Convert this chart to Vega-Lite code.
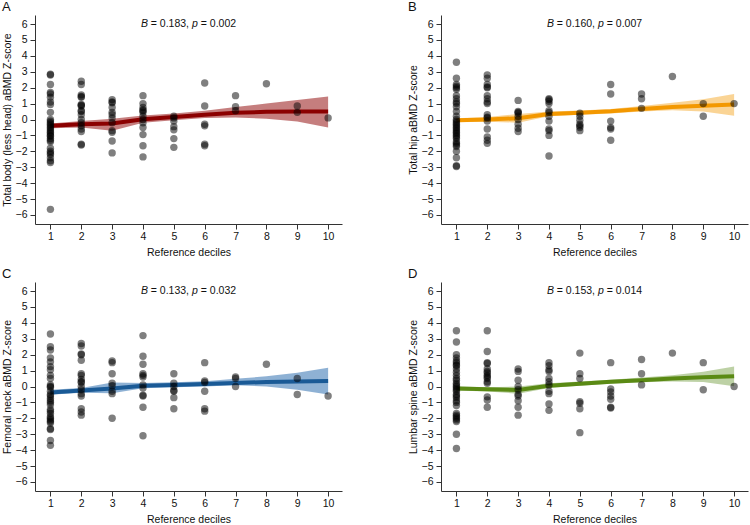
{
"$schema": "https://vega.github.io/schema/vega-lite/v6.json",
"padding": {"left": 2, "top": 1, "right": 5, "bottom": 2},
"columns": 2,
"spacing": {"row": 10, "column": 66},
"config": {
 "view": {"stroke": null},
 "font": "Liberation Sans",
 "axis": {"grid": false, "domainColor": "#333", "tickColor": "#333", "tickSize": 5, "labelFontSize": 10.5, "titleFontSize": 10.5, "labelColor": "#111", "titleColor": "#111", "titleFontWeight": "normal", "labelFont": "Liberation Sans", "titleFont": "Liberation Sans", "labelOverlap": false},
 "axisX": {"labelPadding": 2, "titlePadding": 6},
 "axisY": {"labelPadding": 3, "titlePadding": 3},
 "title": {"anchor": "start", "frame": "bounds", "fontSize": 13, "fontWeight": "normal", "offset": 1, "font": "Liberation Sans", "color": "#111"},
 "text": {"fontSize": 10.5, "baseline": "middle", "align": "left", "color": "#111", "font": "Liberation Sans"}
},
"datasets": {
 "ptsA": [
  {"d":1,"z":2.85},{"d":1,"z":2.8},{"d":1,"z":2.2},{"d":1,"z":1.7},{"d":1,"z":1.6},{"d":1,"z":1.4},{"d":1,"z":1.1},{"d":1,"z":0.95},{"d":1,"z":0.45},{"d":1,"z":0.0},{"d":1,"z":-0.1},{"d":1,"z":-0.2},{"d":1,"z":-0.3},{"d":1,"z":-0.4},{"d":1,"z":-0.5},{"d":1,"z":-0.6},{"d":1,"z":-0.7},{"d":1,"z":-0.8},{"d":1,"z":-0.9},{"d":1,"z":-1.0},{"d":1,"z":-1.05},{"d":1,"z":-1.2},{"d":1,"z":-1.3},{"d":1,"z":-1.4},{"d":1,"z":-1.8},{"d":1,"z":-2.0},{"d":1,"z":-2.1},{"d":1,"z":-2.2},{"d":1,"z":-2.4},{"d":1,"z":-2.6},{"d":1,"z":-2.7},{"d":1,"z":-5.65},
  {"d":2,"z":2.4},{"d":2,"z":2.2},{"d":2,"z":1.55},{"d":2,"z":1.45},{"d":2,"z":1.4},{"d":2,"z":0.95},{"d":2,"z":0.9},{"d":2,"z":0.85},{"d":2,"z":0.55},{"d":2,"z":0.5},{"d":2,"z":0.3},{"d":2,"z":0.0},{"d":2,"z":-0.2},{"d":2,"z":-0.4},{"d":2,"z":-0.6},{"d":2,"z":-0.75},{"d":2,"z":-1.55},{"d":2,"z":-1.6},
  {"d":3,"z":1.25},{"d":3,"z":1.1},{"d":3,"z":1.05},{"d":3,"z":0.75},{"d":3,"z":0.45},{"d":3,"z":0.3},{"d":3,"z":0.1},{"d":3,"z":-0.2},{"d":3,"z":-0.7},{"d":3,"z":-0.8},{"d":3,"z":-1.35},{"d":3,"z":-2.1},
  {"d":4,"z":1.5},{"d":4,"z":1.0},{"d":4,"z":0.75},{"d":4,"z":0.6},{"d":4,"z":0.55},{"d":4,"z":0.45},{"d":4,"z":0.2},{"d":4,"z":0.0},{"d":4,"z":-0.2},{"d":4,"z":-0.5},{"d":4,"z":-0.95},{"d":4,"z":-1.65},{"d":4,"z":-2.35},
  {"d":5,"z":0.2},{"d":5,"z":0.1},{"d":5,"z":-0.1},{"d":5,"z":-0.45},{"d":5,"z":-0.65},{"d":5,"z":-1.2},{"d":5,"z":-1.75},
  {"d":6,"z":2.3},{"d":6,"z":0.85},{"d":6,"z":-0.3},{"d":6,"z":-0.4},{"d":6,"z":-1.55},{"d":6,"z":-1.65},
  {"d":7,"z":1.5},{"d":7,"z":0.8},{"d":7,"z":0.55},
  {"d":8,"z":2.25},
  {"d":9,"z":0.85},{"d":9,"z":0.45},
  {"d":10,"z":0.1}
 ],
 "fitA": [
  {"d":1,"fit":-0.4,"lo":-0.55,"hi":-0.25},{"d":2,"fit":-0.3,"lo":-0.5,"hi":-0.1},{"d":3,"fit":-0.25,"lo":-0.7,"hi":0.05},{"d":4,"fit":0.02,"lo":-0.2,"hi":0.25},{"d":5,"fit":0.15,"lo":-0.05,"hi":0.37},{"d":6,"fit":0.3,"lo":0.1,"hi":0.55},{"d":7,"fit":0.42,"lo":0.12,"hi":0.78},{"d":8,"fit":0.48,"lo":0.05,"hi":1.0},{"d":9,"fit":0.5,"lo":-0.12,"hi":1.22},{"d":10,"fit":0.5,"lo":-0.5,"hi":1.45}
 ],
 "ptsB": [
  {"d":1,"z":3.6},{"d":1,"z":2.6},{"d":1,"z":2.2},{"d":1,"z":2.1},{"d":1,"z":2.0},{"d":1,"z":1.9},{"d":1,"z":1.5},{"d":1,"z":1.3},{"d":1,"z":1.1},{"d":1,"z":1.0},{"d":1,"z":0.8},{"d":1,"z":0.5},{"d":1,"z":0.2},{"d":1,"z":0.0},{"d":1,"z":-0.1},{"d":1,"z":-0.2},{"d":1,"z":-0.3},{"d":1,"z":-0.4},{"d":1,"z":-0.5},{"d":1,"z":-0.6},{"d":1,"z":-0.7},{"d":1,"z":-0.8},{"d":1,"z":-0.9},{"d":1,"z":-1.0},{"d":1,"z":-1.1},{"d":1,"z":-1.2},{"d":1,"z":-1.4},{"d":1,"z":-1.5},{"d":1,"z":-1.6},{"d":1,"z":-1.7},{"d":1,"z":-2.0},{"d":1,"z":-2.4},{"d":1,"z":-2.9},{"d":1,"z":-2.95},
  {"d":2,"z":2.8},{"d":2,"z":2.6},{"d":2,"z":2.2},{"d":2,"z":2.05},{"d":2,"z":2.0},{"d":2,"z":1.5},{"d":2,"z":1.3},{"d":2,"z":1.1},{"d":2,"z":1.0},{"d":2,"z":0.3},{"d":2,"z":0.15},{"d":2,"z":0.1},{"d":2,"z":-0.1},{"d":2,"z":-0.6},{"d":2,"z":-1.1},{"d":2,"z":-1.3},{"d":2,"z":-1.5},
  {"d":3,"z":1.2},{"d":3,"z":0.5},{"d":3,"z":0.45},{"d":3,"z":0.4},{"d":3,"z":0.2},{"d":3,"z":0.0},{"d":3,"z":-0.3},{"d":3,"z":-0.55},{"d":3,"z":-0.75},
  {"d":4,"z":1.3},{"d":4,"z":1.25},{"d":4,"z":1.15},{"d":4,"z":1.0},{"d":4,"z":0.55},{"d":4,"z":0.45},{"d":4,"z":0.2},{"d":4,"z":-0.1},{"d":4,"z":-0.6},{"d":4,"z":-0.7},{"d":4,"z":-1.0},{"d":4,"z":-2.3},
  {"d":5,"z":0.4},{"d":5,"z":0.2},{"d":5,"z":-0.05},{"d":5,"z":-0.3},{"d":5,"z":-0.4},{"d":5,"z":-0.5},{"d":5,"z":-0.7},
  {"d":6,"z":2.2},{"d":6,"z":1.6},{"d":6,"z":-0.1},{"d":6,"z":-0.5},{"d":6,"z":-0.6},{"d":6,"z":-1.3},
  {"d":7,"z":1.6},{"d":7,"z":1.3},{"d":7,"z":0.7},
  {"d":8,"z":2.7},
  {"d":9,"z":1.0},{"d":9,"z":0.2},
  {"d":10,"z":1.0}
 ],
 "fitB": [
  {"d":1,"fit":-0.05,"lo":-0.18,"hi":0.08},{"d":2,"fit":0.0,"lo":-0.14,"hi":0.15},{"d":3,"fit":0.08,"lo":-0.2,"hi":0.35},{"d":4,"fit":0.35,"lo":0.2,"hi":0.5},{"d":5,"fit":0.43,"lo":0.3,"hi":0.56},{"d":6,"fit":0.52,"lo":0.38,"hi":0.66},{"d":7,"fit":0.66,"lo":0.5,"hi":0.85},{"d":8,"fit":0.78,"lo":0.58,"hi":1.05},{"d":9,"fit":0.87,"lo":0.5,"hi":1.27},{"d":10,"fit":0.95,"lo":0.23,"hi":1.6}
 ],
 "ptsC": [
  {"d":1,"z":3.3},{"d":1,"z":2.5},{"d":1,"z":2.3},{"d":1,"z":1.8},{"d":1,"z":1.55},{"d":1,"z":1.25},{"d":1,"z":1.05},{"d":1,"z":0.7},{"d":1,"z":0.5},{"d":1,"z":0.1},{"d":1,"z":0.0},{"d":1,"z":-0.05},{"d":1,"z":-0.3},{"d":1,"z":-0.5},{"d":1,"z":-0.6},{"d":1,"z":-0.75},{"d":1,"z":-0.9},{"d":1,"z":-1.0},{"d":1,"z":-1.15},{"d":1,"z":-1.45},{"d":1,"z":-1.55},{"d":1,"z":-1.7},{"d":1,"z":-1.9},{"d":1,"z":-2.0},{"d":1,"z":-2.1},{"d":1,"z":-2.2},{"d":1,"z":-2.3},{"d":1,"z":-2.65},{"d":1,"z":-2.7},{"d":1,"z":-3.4},{"d":1,"z":-3.7},
  {"d":2,"z":2.7},{"d":2,"z":2.55},{"d":2,"z":2.05},{"d":2,"z":2.0},{"d":2,"z":1.65},{"d":2,"z":0.8},{"d":2,"z":0.7},{"d":2,"z":0.45},{"d":2,"z":0.3},{"d":2,"z":0.25},{"d":2,"z":0.0},{"d":2,"z":-0.2},{"d":2,"z":-0.45},{"d":2,"z":-0.6},{"d":2,"z":-1.4},{"d":2,"z":-1.6},{"d":2,"z":-1.8},
  {"d":3,"z":1.6},{"d":3,"z":1.5},{"d":3,"z":0.8},{"d":3,"z":0.2},{"d":3,"z":0.05},{"d":3,"z":-0.3},{"d":3,"z":-0.45},{"d":3,"z":-2.0},
  {"d":4,"z":3.2},{"d":4,"z":1.9},{"d":4,"z":1.4},{"d":4,"z":0.8},{"d":4,"z":0.7},{"d":4,"z":0.6},{"d":4,"z":0.1},{"d":4,"z":-0.1},{"d":4,"z":-0.55},{"d":4,"z":-0.6},{"d":4,"z":-1.3},{"d":4,"z":-3.1},
  {"d":5,"z":0.8},{"d":5,"z":0.2},{"d":5,"z":0.0},{"d":5,"z":-0.25},{"d":5,"z":-0.3},{"d":5,"z":-0.7},{"d":5,"z":-1.4},
  {"d":6,"z":1.5},{"d":6,"z":0.35},{"d":6,"z":0.25},{"d":6,"z":-0.3},{"d":6,"z":-1.4},{"d":6,"z":-1.55},
  {"d":7,"z":0.6},{"d":7,"z":0.5},{"d":7,"z":0.0},
  {"d":8,"z":1.4},
  {"d":9,"z":0.5},{"d":9,"z":-0.5},
  {"d":10,"z":-0.6}
 ],
 "fitC": [
  {"d":1,"fit":-0.37,"lo":-0.52,"hi":-0.2},{"d":2,"fit":-0.25,"lo":-0.4,"hi":-0.1},{"d":3,"fit":-0.12,"lo":-0.43,"hi":0.25},{"d":4,"fit":0.05,"lo":-0.11,"hi":0.22},{"d":5,"fit":0.1,"lo":-0.05,"hi":0.26},{"d":6,"fit":0.15,"lo":0.0,"hi":0.33},{"d":7,"fit":0.22,"lo":0.08,"hi":0.48},{"d":8,"fit":0.28,"lo":0.0,"hi":0.64},{"d":9,"fit":0.32,"lo":-0.2,"hi":0.87},{"d":10,"fit":0.35,"lo":-0.5,"hi":1.18}
 ],
 "ptsD": [
  {"d":1,"z":3.5},{"d":1,"z":2.8},{"d":1,"z":2.0},{"d":1,"z":1.8},{"d":1,"z":1.6},{"d":1,"z":1.5},{"d":1,"z":1.35},{"d":1,"z":1.3},{"d":1,"z":1.1},{"d":1,"z":0.9},{"d":1,"z":0.7},{"d":1,"z":0.5},{"d":1,"z":0.4},{"d":1,"z":0.2},{"d":1,"z":0.1},{"d":1,"z":0.0},{"d":1,"z":-0.1},{"d":1,"z":-0.2},{"d":1,"z":-0.3},{"d":1,"z":-0.5},{"d":1,"z":-0.6},{"d":1,"z":-0.7},{"d":1,"z":-0.9},{"d":1,"z":-1.0},{"d":1,"z":-1.2},{"d":1,"z":-1.7},{"d":1,"z":-1.8},{"d":1,"z":-1.9},{"d":1,"z":-2.0},{"d":1,"z":-2.1},{"d":1,"z":-2.2},{"d":1,"z":-3.0},{"d":1,"z":-3.9},
  {"d":2,"z":3.5},{"d":2,"z":2.2},{"d":2,"z":1.5},{"d":2,"z":1.45},{"d":2,"z":1.1},{"d":2,"z":0.95},{"d":2,"z":0.85},{"d":2,"z":0.7},{"d":2,"z":0.6},{"d":2,"z":0.5},{"d":2,"z":0.3},{"d":2,"z":0.2},{"d":2,"z":-0.65},{"d":2,"z":-0.85},{"d":2,"z":-1.3},
  {"d":3,"z":1.1},{"d":3,"z":0.95},{"d":3,"z":0.4},{"d":3,"z":0.0},{"d":3,"z":-0.2},{"d":3,"z":-0.5},{"d":3,"z":-0.6},{"d":3,"z":-0.9},{"d":3,"z":-1.3},{"d":3,"z":-1.8},
  {"d":4,"z":1.5},{"d":4,"z":1.3},{"d":4,"z":1.05},{"d":4,"z":0.95},{"d":4,"z":0.5},{"d":4,"z":0.3},{"d":4,"z":0.1},{"d":4,"z":-0.3},{"d":4,"z":-0.45},{"d":4,"z":-1.1},{"d":4,"z":-1.5},
  {"d":5,"z":2.1},{"d":5,"z":0.8},{"d":5,"z":0.5},{"d":5,"z":-0.95},{"d":5,"z":-1.05},{"d":5,"z":-1.4},{"d":5,"z":-2.9},
  {"d":6,"z":1.5},{"d":6,"z":-0.15},{"d":6,"z":-0.35},{"d":6,"z":-0.6},{"d":6,"z":-0.8},{"d":6,"z":-1.3},{"d":6,"z":-1.35},
  {"d":7,"z":1.7},{"d":7,"z":0.8},{"d":7,"z":0.1},
  {"d":8,"z":2.1},
  {"d":9,"z":1.5},{"d":9,"z":-0.2},
  {"d":10,"z":0.0}
 ],
 "fitD": [
  {"d":1,"fit":-0.12,"lo":-0.25,"hi":0.02},{"d":2,"fit":-0.18,"lo":-0.32,"hi":-0.04},{"d":3,"fit":-0.22,"lo":-0.45,"hi":0.0},{"d":4,"fit":0.05,"lo":-0.1,"hi":0.2},{"d":5,"fit":0.18,"lo":0.05,"hi":0.32},{"d":6,"fit":0.3,"lo":0.17,"hi":0.43},{"d":7,"fit":0.4,"lo":0.27,"hi":0.56},{"d":8,"fit":0.5,"lo":0.32,"hi":0.7},{"d":9,"fit":0.58,"lo":0.28,"hi":0.93},{"d":10,"fit":0.65,"lo":0.02,"hi":1.25}
 ]
},
"concat": [
 {
  "width": 307, "height": 209,
  "title": {"text": "A"},
  "layer": [
   {"data": {"name": "fitA"}, "mark": {"type": "area", "color": "#961414", "opacity": 0.55}, "encoding": {"x": {"field": "d", "type": "quantitative", "scale": {"domain": [0.5, 10.45], "nice": false, "zero": false}, "axis": {"values": [1,2,3,4,5,6,7,8,9,10], "labelOverlap": false, "title": "Reference deciles"}}, "y": {"field": "lo", "type": "quantitative", "scale": {"domain": [-6.57, 6.57], "nice": false, "zero": false}, "axis": {"values": [-6,-5,-4,-3,-2,-1,0,1,2,3,4,5,6], "labelOverlap": false, "title": "Total body (less head) aBMD Z-score"}}, "y2": {"field": "hi"}}},
   {"data": {"name": "fitA"}, "mark": {"type": "line", "color": "#8b0000", "strokeWidth": 4}, "encoding": {"x": {"field": "d", "type": "quantitative", "axis": {"values": [1,2,3,4,5,6,7,8,9,10], "labelOverlap": false, "title": "Reference deciles"}}, "y": {"field": "fit", "type": "quantitative", "axis": {"values": [-6,-5,-4,-3,-2,-1,0,1,2,3,4,5,6], "labelOverlap": false, "title": "Total body (less head) aBMD Z-score"}}}},
   {"data": {"name": "ptsA"}, "mark": {"type": "circle", "size": 55, "color": "#000", "opacity": 0.5}, "encoding": {"x": {"field": "d", "type": "quantitative", "axis": {"values": [1,2,3,4,5,6,7,8,9,10], "labelOverlap": false, "title": "Reference deciles"}}, "y": {"field": "z", "type": "quantitative", "axis": {"values": [-6,-5,-4,-3,-2,-1,0,1,2,3,4,5,6], "labelOverlap": false, "title": "Total body (less head) aBMD Z-score"}}}},
   {"data": {"values": [{"b": "= 0.183,", "p": "= 0.002"}]}, "mark": {"type": "text", "fontStyle": "italic", "dx": -47.6}, "encoding": {"x": {"datum": 5.475, "type": "quantitative", "axis": {"values": [1,2,3,4,5,6,7,8,9,10], "labelOverlap": false, "title": "Reference deciles"}}, "y": {"datum": 6, "type": "quantitative", "axis": {"values": [-6,-5,-4,-3,-2,-1,0,1,2,3,4,5,6], "labelOverlap": false, "title": "Total body (less head) aBMD Z-score"}}, "text": {"value": "B"}}},
   {"data": {"values": [{"b": "= 0.183,", "p": "= 0.002"}]}, "mark": {"type": "text", "dx": -37.7}, "encoding": {"x": {"datum": 5.475, "type": "quantitative", "axis": {"values": [1,2,3,4,5,6,7,8,9,10], "labelOverlap": false, "title": "Reference deciles"}}, "y": {"datum": 6, "type": "quantitative", "axis": {"values": [-6,-5,-4,-3,-2,-1,0,1,2,3,4,5,6], "labelOverlap": false, "title": "Total body (less head) aBMD Z-score"}}, "text": {"field": "b", "type": "nominal"}}},
   {"data": {"values": [{"b": "= 0.183,", "p": "= 0.002"}]}, "mark": {"type": "text", "fontStyle": "italic", "dx": 3.5}, "encoding": {"x": {"datum": 5.475, "type": "quantitative", "axis": {"values": [1,2,3,4,5,6,7,8,9,10], "labelOverlap": false, "title": "Reference deciles"}}, "y": {"datum": 6, "type": "quantitative", "axis": {"values": [-6,-5,-4,-3,-2,-1,0,1,2,3,4,5,6], "labelOverlap": false, "title": "Total body (less head) aBMD Z-score"}}, "text": {"value": "p"}}},
   {"data": {"values": [{"b": "= 0.183,", "p": "= 0.002"}]}, "mark": {"type": "text", "dx": 12.3}, "encoding": {"x": {"datum": 5.475, "type": "quantitative", "axis": {"values": [1,2,3,4,5,6,7,8,9,10], "labelOverlap": false, "title": "Reference deciles"}}, "y": {"datum": 6, "type": "quantitative", "axis": {"values": [-6,-5,-4,-3,-2,-1,0,1,2,3,4,5,6], "labelOverlap": false, "title": "Total body (less head) aBMD Z-score"}}, "text": {"field": "p", "type": "nominal"}}}
  ]
 },
 {
  "width": 307, "height": 209,
  "title": {"text": "B"},
  "layer": [
   {"data": {"name": "fitB"}, "mark": {"type": "area", "color": "#f5a014", "opacity": 0.45}, "encoding": {"x": {"field": "d", "type": "quantitative", "scale": {"domain": [0.5, 10.45], "nice": false, "zero": false}, "axis": {"values": [1,2,3,4,5,6,7,8,9,10], "labelOverlap": false, "title": "Reference deciles"}}, "y": {"field": "lo", "type": "quantitative", "scale": {"domain": [-6.57, 6.57], "nice": false, "zero": false}, "axis": {"values": [-6,-5,-4,-3,-2,-1,0,1,2,3,4,5,6], "labelOverlap": false, "title": "Total hip aBMD Z-score"}}, "y2": {"field": "hi"}}},
   {"data": {"name": "fitB"}, "mark": {"type": "line", "color": "#f39800", "strokeWidth": 4}, "encoding": {"x": {"field": "d", "type": "quantitative", "axis": {"values": [1,2,3,4,5,6,7,8,9,10], "labelOverlap": false, "title": "Reference deciles"}}, "y": {"field": "fit", "type": "quantitative", "axis": {"values": [-6,-5,-4,-3,-2,-1,0,1,2,3,4,5,6], "labelOverlap": false, "title": "Total hip aBMD Z-score"}}}},
   {"data": {"name": "ptsB"}, "mark": {"type": "circle", "size": 55, "color": "#000", "opacity": 0.5}, "encoding": {"x": {"field": "d", "type": "quantitative", "axis": {"values": [1,2,3,4,5,6,7,8,9,10], "labelOverlap": false, "title": "Reference deciles"}}, "y": {"field": "z", "type": "quantitative", "axis": {"values": [-6,-5,-4,-3,-2,-1,0,1,2,3,4,5,6], "labelOverlap": false, "title": "Total hip aBMD Z-score"}}}},
   {"data": {"values": [{"b": "= 0.160,", "p": "= 0.007"}]}, "mark": {"type": "text", "fontStyle": "italic", "dx": -47.6}, "encoding": {"x": {"datum": 5.475, "type": "quantitative", "axis": {"values": [1,2,3,4,5,6,7,8,9,10], "labelOverlap": false, "title": "Reference deciles"}}, "y": {"datum": 6, "type": "quantitative", "axis": {"values": [-6,-5,-4,-3,-2,-1,0,1,2,3,4,5,6], "labelOverlap": false, "title": "Total hip aBMD Z-score"}}, "text": {"value": "B"}}},
   {"data": {"values": [{"b": "= 0.160,", "p": "= 0.007"}]}, "mark": {"type": "text", "dx": -37.7}, "encoding": {"x": {"datum": 5.475, "type": "quantitative", "axis": {"values": [1,2,3,4,5,6,7,8,9,10], "labelOverlap": false, "title": "Reference deciles"}}, "y": {"datum": 6, "type": "quantitative", "axis": {"values": [-6,-5,-4,-3,-2,-1,0,1,2,3,4,5,6], "labelOverlap": false, "title": "Total hip aBMD Z-score"}}, "text": {"field": "b", "type": "nominal"}}},
   {"data": {"values": [{"b": "= 0.160,", "p": "= 0.007"}]}, "mark": {"type": "text", "fontStyle": "italic", "dx": 3.5}, "encoding": {"x": {"datum": 5.475, "type": "quantitative", "axis": {"values": [1,2,3,4,5,6,7,8,9,10], "labelOverlap": false, "title": "Reference deciles"}}, "y": {"datum": 6, "type": "quantitative", "axis": {"values": [-6,-5,-4,-3,-2,-1,0,1,2,3,4,5,6], "labelOverlap": false, "title": "Total hip aBMD Z-score"}}, "text": {"value": "p"}}},
   {"data": {"values": [{"b": "= 0.160,", "p": "= 0.007"}]}, "mark": {"type": "text", "dx": 12.3}, "encoding": {"x": {"datum": 5.475, "type": "quantitative", "axis": {"values": [1,2,3,4,5,6,7,8,9,10], "labelOverlap": false, "title": "Reference deciles"}}, "y": {"datum": 6, "type": "quantitative", "axis": {"values": [-6,-5,-4,-3,-2,-1,0,1,2,3,4,5,6], "labelOverlap": false, "title": "Total hip aBMD Z-score"}}, "text": {"field": "p", "type": "nominal"}}}
  ]
 },
 {
  "width": 307, "height": 209,
  "title": {"text": "C"},
  "layer": [
   {"data": {"name": "fitC"}, "mark": {"type": "area", "color": "#1e64aa", "opacity": 0.5}, "encoding": {"x": {"field": "d", "type": "quantitative", "scale": {"domain": [0.5, 10.45], "nice": false, "zero": false}, "axis": {"values": [1,2,3,4,5,6,7,8,9,10], "labelOverlap": false, "title": "Reference deciles"}}, "y": {"field": "lo", "type": "quantitative", "scale": {"domain": [-6.57, 6.57], "nice": false, "zero": false}, "axis": {"values": [-6,-5,-4,-3,-2,-1,0,1,2,3,4,5,6], "labelOverlap": false, "title": "Femoral neck aBMD Z-score"}}, "y2": {"field": "hi"}}},
   {"data": {"name": "fitC"}, "mark": {"type": "line", "color": "#1a5a96", "strokeWidth": 4}, "encoding": {"x": {"field": "d", "type": "quantitative", "axis": {"values": [1,2,3,4,5,6,7,8,9,10], "labelOverlap": false, "title": "Reference deciles"}}, "y": {"field": "fit", "type": "quantitative", "axis": {"values": [-6,-5,-4,-3,-2,-1,0,1,2,3,4,5,6], "labelOverlap": false, "title": "Femoral neck aBMD Z-score"}}}},
   {"data": {"name": "ptsC"}, "mark": {"type": "circle", "size": 55, "color": "#000", "opacity": 0.5}, "encoding": {"x": {"field": "d", "type": "quantitative", "axis": {"values": [1,2,3,4,5,6,7,8,9,10], "labelOverlap": false, "title": "Reference deciles"}}, "y": {"field": "z", "type": "quantitative", "axis": {"values": [-6,-5,-4,-3,-2,-1,0,1,2,3,4,5,6], "labelOverlap": false, "title": "Femoral neck aBMD Z-score"}}}},
   {"data": {"values": [{"b": "= 0.133,", "p": "= 0.032"}]}, "mark": {"type": "text", "fontStyle": "italic", "dx": -47.6}, "encoding": {"x": {"datum": 5.475, "type": "quantitative", "axis": {"values": [1,2,3,4,5,6,7,8,9,10], "labelOverlap": false, "title": "Reference deciles"}}, "y": {"datum": 6, "type": "quantitative", "axis": {"values": [-6,-5,-4,-3,-2,-1,0,1,2,3,4,5,6], "labelOverlap": false, "title": "Femoral neck aBMD Z-score"}}, "text": {"value": "B"}}},
   {"data": {"values": [{"b": "= 0.133,", "p": "= 0.032"}]}, "mark": {"type": "text", "dx": -37.7}, "encoding": {"x": {"datum": 5.475, "type": "quantitative", "axis": {"values": [1,2,3,4,5,6,7,8,9,10], "labelOverlap": false, "title": "Reference deciles"}}, "y": {"datum": 6, "type": "quantitative", "axis": {"values": [-6,-5,-4,-3,-2,-1,0,1,2,3,4,5,6], "labelOverlap": false, "title": "Femoral neck aBMD Z-score"}}, "text": {"field": "b", "type": "nominal"}}},
   {"data": {"values": [{"b": "= 0.133,", "p": "= 0.032"}]}, "mark": {"type": "text", "fontStyle": "italic", "dx": 3.5}, "encoding": {"x": {"datum": 5.475, "type": "quantitative", "axis": {"values": [1,2,3,4,5,6,7,8,9,10], "labelOverlap": false, "title": "Reference deciles"}}, "y": {"datum": 6, "type": "quantitative", "axis": {"values": [-6,-5,-4,-3,-2,-1,0,1,2,3,4,5,6], "labelOverlap": false, "title": "Femoral neck aBMD Z-score"}}, "text": {"value": "p"}}},
   {"data": {"values": [{"b": "= 0.133,", "p": "= 0.032"}]}, "mark": {"type": "text", "dx": 12.3}, "encoding": {"x": {"datum": 5.475, "type": "quantitative", "axis": {"values": [1,2,3,4,5,6,7,8,9,10], "labelOverlap": false, "title": "Reference deciles"}}, "y": {"datum": 6, "type": "quantitative", "axis": {"values": [-6,-5,-4,-3,-2,-1,0,1,2,3,4,5,6], "labelOverlap": false, "title": "Femoral neck aBMD Z-score"}}, "text": {"field": "p", "type": "nominal"}}}
  ]
 },
 {
  "width": 307, "height": 209,
  "title": {"text": "D"},
  "layer": [
   {"data": {"name": "fitD"}, "mark": {"type": "area", "color": "#5a8c1e", "opacity": 0.4}, "encoding": {"x": {"field": "d", "type": "quantitative", "scale": {"domain": [0.5, 10.45], "nice": false, "zero": false}, "axis": {"values": [1,2,3,4,5,6,7,8,9,10], "labelOverlap": false, "title": "Reference deciles"}}, "y": {"field": "lo", "type": "quantitative", "scale": {"domain": [-6.57, 6.57], "nice": false, "zero": false}, "axis": {"values": [-6,-5,-4,-3,-2,-1,0,1,2,3,4,5,6], "labelOverlap": false, "title": "Lumbar spine aBMD Z-score"}}, "y2": {"field": "hi"}}},
   {"data": {"name": "fitD"}, "mark": {"type": "line", "color": "#5a8a14", "strokeWidth": 4}, "encoding": {"x": {"field": "d", "type": "quantitative", "axis": {"values": [1,2,3,4,5,6,7,8,9,10], "labelOverlap": false, "title": "Reference deciles"}}, "y": {"field": "fit", "type": "quantitative", "axis": {"values": [-6,-5,-4,-3,-2,-1,0,1,2,3,4,5,6], "labelOverlap": false, "title": "Lumbar spine aBMD Z-score"}}}},
   {"data": {"name": "ptsD"}, "mark": {"type": "circle", "size": 55, "color": "#000", "opacity": 0.5}, "encoding": {"x": {"field": "d", "type": "quantitative", "axis": {"values": [1,2,3,4,5,6,7,8,9,10], "labelOverlap": false, "title": "Reference deciles"}}, "y": {"field": "z", "type": "quantitative", "axis": {"values": [-6,-5,-4,-3,-2,-1,0,1,2,3,4,5,6], "labelOverlap": false, "title": "Lumbar spine aBMD Z-score"}}}},
   {"data": {"values": [{"b": "= 0.153,", "p": "= 0.014"}]}, "mark": {"type": "text", "fontStyle": "italic", "dx": -47.6}, "encoding": {"x": {"datum": 5.475, "type": "quantitative", "axis": {"values": [1,2,3,4,5,6,7,8,9,10], "labelOverlap": false, "title": "Reference deciles"}}, "y": {"datum": 6, "type": "quantitative", "axis": {"values": [-6,-5,-4,-3,-2,-1,0,1,2,3,4,5,6], "labelOverlap": false, "title": "Lumbar spine aBMD Z-score"}}, "text": {"value": "B"}}},
   {"data": {"values": [{"b": "= 0.153,", "p": "= 0.014"}]}, "mark": {"type": "text", "dx": -37.7}, "encoding": {"x": {"datum": 5.475, "type": "quantitative", "axis": {"values": [1,2,3,4,5,6,7,8,9,10], "labelOverlap": false, "title": "Reference deciles"}}, "y": {"datum": 6, "type": "quantitative", "axis": {"values": [-6,-5,-4,-3,-2,-1,0,1,2,3,4,5,6], "labelOverlap": false, "title": "Lumbar spine aBMD Z-score"}}, "text": {"field": "b", "type": "nominal"}}},
   {"data": {"values": [{"b": "= 0.153,", "p": "= 0.014"}]}, "mark": {"type": "text", "fontStyle": "italic", "dx": 3.5}, "encoding": {"x": {"datum": 5.475, "type": "quantitative", "axis": {"values": [1,2,3,4,5,6,7,8,9,10], "labelOverlap": false, "title": "Reference deciles"}}, "y": {"datum": 6, "type": "quantitative", "axis": {"values": [-6,-5,-4,-3,-2,-1,0,1,2,3,4,5,6], "labelOverlap": false, "title": "Lumbar spine aBMD Z-score"}}, "text": {"value": "p"}}},
   {"data": {"values": [{"b": "= 0.153,", "p": "= 0.014"}]}, "mark": {"type": "text", "dx": 12.3}, "encoding": {"x": {"datum": 5.475, "type": "quantitative", "axis": {"values": [1,2,3,4,5,6,7,8,9,10], "labelOverlap": false, "title": "Reference deciles"}}, "y": {"datum": 6, "type": "quantitative", "axis": {"values": [-6,-5,-4,-3,-2,-1,0,1,2,3,4,5,6], "labelOverlap": false, "title": "Lumbar spine aBMD Z-score"}}, "text": {"field": "p", "type": "nominal"}}}
  ]
 }
]
}
